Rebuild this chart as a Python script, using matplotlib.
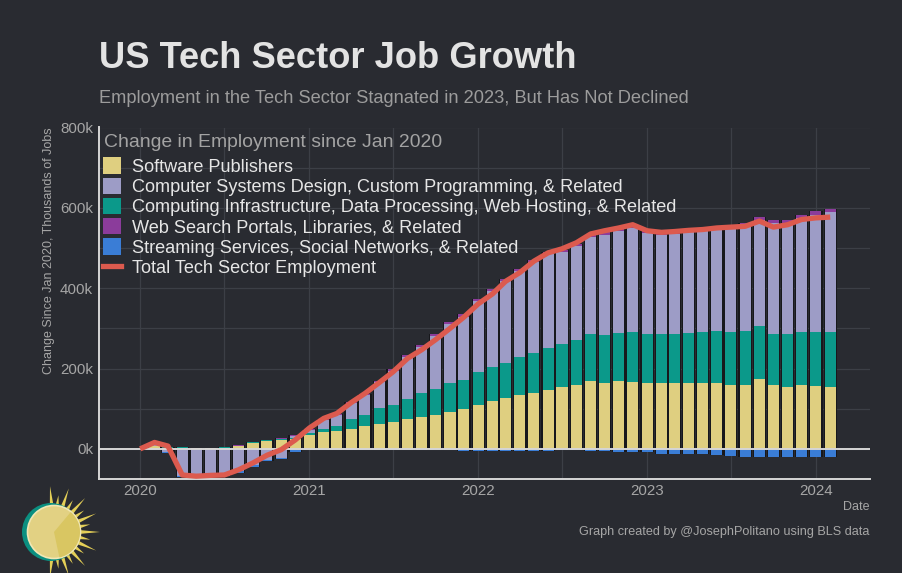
import numpy as np
import pandas as pd
import matplotlib
matplotlib.use("Agg")
from matplotlib import pyplot as plt
from matplotlib.patches import Patch, Circle, Wedge, Polygon
from matplotlib.lines import Line2D
import matplotlib.dates as mdates

plt.rcParams['font.family'] = ['Liberation Sans', 'DejaVu Sans']

# monthly change since Jan 2020, thousands of jobs (Jan 2020 .. Feb 2024)
months = pd.date_range("2020-01-01", periods=50, freq="MS")
software = [0, 6, 3, 3, 2, 2, 3, 7, 15, 19, 23, 25, 35, 41, 44, 49, 58, 63, 68, 74,
            79, 85, 92, 100, 110, 119, 127, 134, 140, 147, 154, 160, 168, 165, 169, 167, 163, 164, 164, 164,
            163, 164, 160, 160, 175, 159, 155, 158, 157, 155]
infra = [0, 1, 1, 1, 1, 1, 1, 1, 1, 2, 2, 3, 5, 9, 13, 26, 26, 38, 41, 49,
         59, 65, 71, 72, 81, 84, 86, 95, 99, 105, 107, 112, 118, 119, 120, 125, 124, 122, 123, 125,
         127, 130, 132, 134, 130, 128, 130, 133, 134, 135]
systems = [0, 4, -9, -67, -66, -63, -65, -55, -41, -27, -22, 5, 8, 22, 27, 38, 50, 65, 86, 106,
           116, 132, 147, 157, 176, 190, 204, 213, 227, 233, 228, 233, 241, 249, 253, 258, 251, 247, 248, 252,
           254, 255, 258, 261, 265, 276, 278, 284, 292, 300]
search = [0, 1, 1, 0, 0, 0, 0, 1, 1, 1, 1, 2, 2, 2, 2, 3, 3, 3, 3, 4,
          4, 4, 5, 6, 6, 6, 6, 5, 5, 6, 5, 6, 6, 6, 6, 5, 5, 6, 6, 6,
          6, 6, 6, 7, 7, 7, 7, 8, 8, 6]
streaming = [0, 0, -1, -3, -4, -3, -3, -5, -4, -3, -4, -7, -3, -2, -2, -2, -2, -2, -3, -3,
             -3, -4, -4, -5, -6, -6, -6, -5, -6, -5, -4, -4, -5, -6, -7, -7, -9, -12, -12, -13,
             -14, -16, -17, -19, -19, -19, -19, -19, -19, -21]
total = [0, 16, 7, -65, -68, -66, -65, -52, -35, -16, -2, 22, 52, 76, 88, 115, 138, 165, 192, 225,
         247, 272, 300, 328, 361, 386, 417, 439, 467, 488, 498, 513, 535, 543, 550, 558, 543, 539, 541, 544,
         546, 550, 552, 554, 567, 552, 558, 571, 575, 577]

SOFT_C, SYS_C, INFRA_C, SEARCH_C, STREAM_C = "#dfcf80", "#9d9cc6", "#0b998a", "#8b3c9b", "#3a7dd6"
TOTAL_C = "#dc5a4e"

legend_labels = ["Software Publishers",
                 "Computer Systems Design, Custom Programming, & Related",
                 "Computing Infrastructure, Data Processing, Web Hosting, & Related",
                 "Web Search Portals, Libraries, & Related",
                 "Streaming Services, Social Networks, & Related"]
legend_colors = [SOFT_C, SYS_C, INFRA_C, SEARCH_C, STREAM_C]

# drawing order of the stack, bottom to top
stack_order = [(software, SOFT_C), (infra, INFRA_C), (systems, SYS_C),
               (search, SEARCH_C), (streaming, STREAM_C)]

BG = "#292b31"
GRID = "#3c3f46"
W, H = 902, 573

fig = plt.figure(figsize=(W / 100, H / 100), dpi=100, facecolor=BG)
ax = fig.add_axes([99 / W, 1 - 479 / H, (870 - 99) / W, (479 - 127.5) / H])
ax.set_facecolor(BG)

x = mdates.date2num(months)
pos_base = np.zeros(len(x))
neg_base = np.zeros(len(x))
tops = np.zeros(len(x))
bots = np.zeros(len(x))
for vals, _ in stack_order:
    v = np.array(vals, dtype=float)
    tops += np.clip(v, 0, None)
    bots += np.clip(v, None, 0)

# dark backing behind each bar (gives the black gaps)
ax.bar(x, tops - bots, bottom=bots, width=29, color="#17181c", linewidth=0, zorder=2)

for vals, col in stack_order:
    v = np.array(vals, dtype=float)
    base = np.where(v >= 0, pos_base, neg_base)
    ax.bar(x, v, bottom=base, width=24, color=col, linewidth=0, zorder=3)
    pos_base += np.clip(v, 0, None)
    neg_base += np.clip(v, None, 0)

ax.axhline(0, color="#d6d6d6", lw=1.4, zorder=4)
ax.plot(x, total, color=TOTAL_C, lw=3.8, solid_joinstyle="round", solid_capstyle="butt", zorder=5)

ax.set_ylim(-75, 800)
ax.set_xlim(mdates.date2num(pd.Timestamp("2019-10-04")), mdates.date2num(pd.Timestamp("2024-04-27")))
ax.set_yticks([0, 200, 400, 600, 800])
ax.set_yticklabels(["0k", "200k", "400k", "600k", "800k"])
ax.set_yticks([100, 300, 500, 700], minor=True)
years = pd.to_datetime(["2020-01-01", "2021-01-01", "2022-01-01", "2023-01-01", "2024-01-01"])
ax.set_xticks(mdates.date2num(years))
ax.set_xticklabels(["2020", "2021", "2022", "2023", "2024"])
ax.set_xticks(mdates.date2num(pd.to_datetime(["2020-07-01", "2021-07-01", "2022-07-01", "2023-07-01"])), minor=True)
ax.grid(True, which="both", color=GRID, lw=0.9, zorder=0)
ax.set_axisbelow(True)
ax.tick_params(which="both", length=0, colors="#a6a6a6", labelsize=10.9)
ax.tick_params(axis="y", pad=4.3)
ax.tick_params(axis="x", pad=3.5)
for s in ["top", "right"]:
    ax.spines[s].set_visible(False)
for s in ["left", "bottom"]:
    ax.spines[s].set_color("#d6d6d6")
    ax.spines[s].set_linewidth(1.4)

handles = [Patch(facecolor=c, edgecolor="none") for c in legend_colors]
handles.append(Line2D([0], [0], color=TOTAL_C, lw=3.8))
leg = ax.legend(handles, legend_labels + ["Total Tech Sector Employment"],
                loc="upper left", bbox_to_anchor=(103 / W, 1 - 157.5 / H),
                bbox_transform=fig.transFigure, frameon=False, fontsize=13.1,
                handlelength=1.0, handleheight=1.0, handletextpad=0.6,
                labelspacing=0.1, borderpad=0, borderaxespad=0)
for t in leg.get_texts():
    t.set_color("#e6e6e6")
leg.set_zorder(6)

def fx(px):
    return px / W

def fy(py):
    return 1 - py / H

fig.text(fx(103.5), fy(147.3), "Change in Employment since Jan 2020", fontsize=13.95,
         color="#a3a3a3", va="baseline", ha="left", zorder=6)
fig.text(fx(99), fy(68.3), "US Tech Sector Job Growth", fontsize=26.2, fontweight="bold",
         color="#e3e3e3", va="baseline", ha="left")
fig.text(fx(99), fy(102.7), "Employment in the Tech Sector Stagnated in 2023, But Has Not Declined",
         fontsize=13.15, color="#9c9c9c", va="baseline", ha="left")
fig.text(fx(49), fy(251), "Change Since Jan 2020, Thousands of Jobs", rotation=90,
         fontsize=9, color="#a6a6a6", va="center", ha="center")
fig.text(fx(870), fy(507), "Date", fontsize=9, color="#a6a6a6", va="center", ha="right")
fig.text(fx(869), fy(532), "Graph created by @JosephPolitano using BLS data",
         fontsize=9.05, color="#a6a6a6", va="center", ha="right")

# sun logo, bottom left
lax = fig.add_axes([0, 0, 1, 1], facecolor="none")
lax.set_xlim(0, W)
lax.set_ylim(H, 0)
lax.axis("off")
cx, cy = 54, 532
spike_angles = np.linspace(-95, 95, 17)
for k, a in enumerate(spike_angles):
    r_out = 46 if k % 2 == 0 else 37
    half = 5.0
    pts = []
    for ang, r in [(a - half, 24), (a, r_out), (a + half, 24)]:
        t = np.deg2rad(ang)
        pts.append((cx + r * np.cos(t), cy - r * np.sin(t)))
    lax.add_patch(Polygon(pts, closed=True, facecolor="#e4cf57", edgecolor="none", zorder=1))
lax.add_patch(Circle((cx - 3, cy), 29, facecolor="#0b8f80", edgecolor="none", zorder=2))
lax.add_patch(Circle((cx, cy), 26.5, facecolor="#e2d183", edgecolor="#f1e7b4", lw=1.2, zorder=3))
lax.add_patch(Wedge((cx, cy), 26, -50, 78, facecolor="#d9c662", edgecolor="none", zorder=4))

fig.savefig("out.png", dpi=100, facecolor=BG)
